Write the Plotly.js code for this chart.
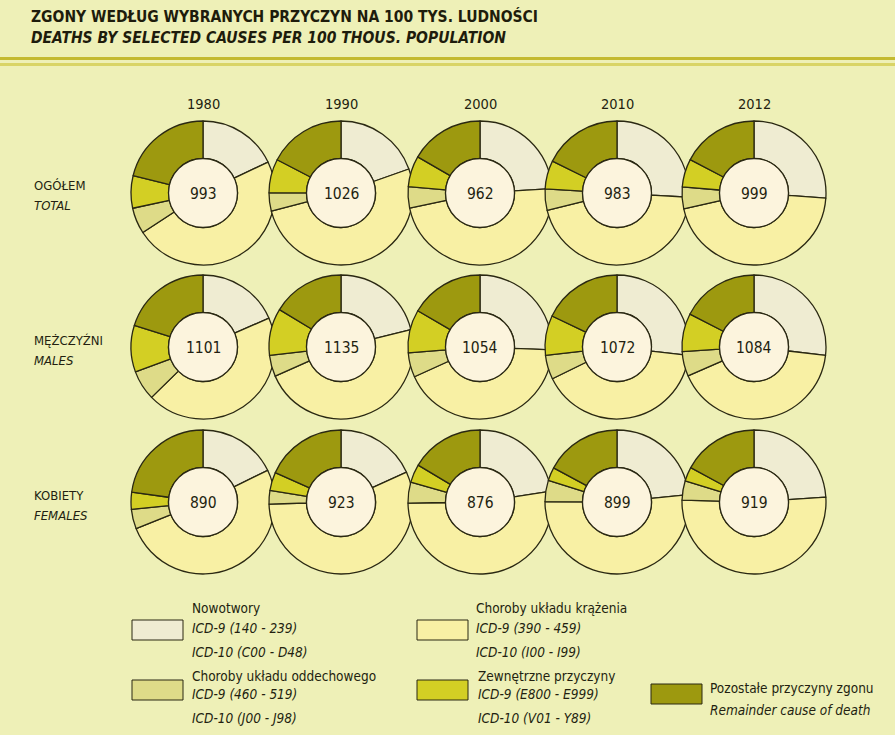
<!DOCTYPE html>
<html>
<head>
<meta charset="utf-8">
<script src="https://cdn.plot.ly/plotly-3.0.1.min.js"></script>
<style>html,body{margin:0;padding:0;background:#eef0b7;}#chart{width:895px;height:735px;}</style>
</head>
<body>
<div id="chart"></div>
<script>
// ---------- DATA ----------
const years = ['1980', '1990', '2000', '2010', '2012'];
const groupsPL = ['OGÓŁEM', 'MĘŻCZYŹNI', 'KOBIETY'];
const groupsEN = ['TOTAL', 'MALES', 'FEMALES'];
const causes = ['Nowotwory', 'Choroby układu krążenia', 'Choroby układu oddechowego', 'Zewnętrzne przyczyny', 'Pozostałe przyczyny zgonu'];

const totalsAll = [993, 1026, 962, 983, 999];
const totalsMales = [1101, 1135, 1054, 1072, 1084];
const totalsFemales = [890, 923, 876, 899, 919];

// per 100 thous. population
const neoplasmsAll = [178, 201, 231, 255, 261];
const circulatoryAll = [475, 527, 458, 444, 453];
const respiratoryAll = [58, 42, 46, 47, 49];
const externalAll = [72, 78, 67, 63, 63];
const remainderAll = [210, 178, 160, 174, 173];

const neoplasmsMales = [203, 240, 270, 288, 291];
const circulatoryMales = [487, 536, 449, 438, 451];
const respiratoryMales = [74, 54, 58, 58, 60];
const externalMales = [115, 120, 102, 96, 93];
const remainderMales = [222, 185, 175, 192, 189];

const neoplasmsFemales = [158, 168, 198, 210, 220];
const circulatoryFemales = [456, 520, 457, 465, 473];
const respiratoryFemales = [39, 28, 41, 43, 40];
const externalFemales = [34, 38, 36, 27, 29];
const remainderFemales = [203, 169, 144, 154, 157];

// ---------- STYLE / LAYOUT ----------
const W = 895, H = 735;
const colors = ['#efecd2', '#f8f0a4', '#dedb88', '#d3cf24', '#9d990f'];
const lineCol = '#2a2812';
const FONT = '"Liberation Sans Narrow", "DejaVu Sans Condensed", "Roboto", sans-serif';
const txtCol = '#231f10';

const colX = [203, 341, 480, 617, 754];
const rowY = [193, 347, 502];
const R = 72;
const RI = 34.5;

const groups = [
  {tot: totalsAll, s: [neoplasmsAll, circulatoryAll, respiratoryAll, externalAll, remainderAll]},
  {tot: totalsMales, s: [neoplasmsMales, circulatoryMales, respiratoryMales, externalMales, remainderMales]},
  {tot: totalsFemales, s: [neoplasmsFemales, circulatoryFemales, respiratoryFemales, externalFemales, remainderFemales]}
];

const px = x => x / W;
const py = y => 1 - y / H;

const traces = [];
const shapes = [];
const annotations = [];

groups.forEach((g, gi) => {
  years.forEach((yr, yi) => {
    const cx = colX[yi], cy = rowY[gi];
    traces.push({
      type: 'pie',
      labels: causes,
      values: g.s.map(arr => arr[yi]),
      sort: false,
      direction: 'clockwise',
      rotation: 0,
      hole: RI / R,
      textinfo: 'none',
      hoverinfo: 'label+value',
      showlegend: false,
      marker: {colors: colors, line: {color: lineCol, width: 1.3}},
      domain: {x: [px(cx - R), px(cx + R)], y: [py(cy + R), py(cy - R)]}
    });
    shapes.push({
      type: 'circle', xref: 'paper', yref: 'paper', layer: 'above',
      x0: px(cx - RI), x1: px(cx + RI), y0: py(cy + RI), y1: py(cy - RI),
      fillcolor: '#fcf4dd', line: {color: lineCol, width: 1.3}
    });
    annotations.push({
      xref: 'paper', yref: 'paper', x: px(cx), y: py(cy + 1), xanchor: 'center', yanchor: 'middle',
      text: String(g.tot[yi]), showarrow: false,
      font: {family: FONT, size: 15.5, color: txtCol}
    });
  });
  annotations.push({
    xref: 'paper', yref: 'paper', x: px(32), y: py(rowY[gi] - 7), xanchor: 'left', yanchor: 'middle',
    text: groupsPL[gi], showarrow: false, font: {family: FONT, size: 13, color: txtCol}
  });
  annotations.push({
    xref: 'paper', yref: 'paper', x: px(32), y: py(rowY[gi] + 13), xanchor: 'left', yanchor: 'middle',
    text: '<i>' + groupsEN[gi] + '</i>', showarrow: false, font: {family: FONT, size: 13, color: txtCol}
  });
});

years.forEach((yr, yi) => {
  annotations.push({
    xref: 'paper', yref: 'paper', x: px(colX[yi]), y: py(104), xanchor: 'center', yanchor: 'middle',
    text: yr, showarrow: false, font: {family: FONT, size: 14.5, color: txtCol}
  });
});

// title
annotations.push({
  xref: 'paper', yref: 'paper', x: px(29), y: py(16), xanchor: 'left', yanchor: 'middle',
  text: '<b>ZGONY WEDŁUG WYBRANYCH PRZYCZYN NA 100 TYS. LUDNOŚCI</b>', showarrow: false,
  font: {family: FONT, size: 15.5, color: '#1e1c0c'}
});
annotations.push({
  xref: 'paper', yref: 'paper', x: px(29), y: py(38), xanchor: 'left', yanchor: 'middle',
  text: '<b><i>DEATHS BY SELECTED CAUSES PER 100 THOUS. POPULATION</i></b>', showarrow: false,
  font: {family: FONT, size: 15.5, color: '#1e1c0c'}
});
shapes.push({type: 'line', xref: 'paper', yref: 'paper', x0: 0, x1: 1, y0: py(58.5), y1: py(58.5), line: {color: '#c4ba30', width: 3}});
shapes.push({type: 'line', xref: 'paper', yref: 'paper', x0: 0, x1: 1, y0: py(64.5), y1: py(64.5), line: {color: '#d9d466', width: 3}});

// legend (custom)
const legendItems = [
  {ci: 0, bx: 132, by: 620, tx: 190, lines: [['Nowotwory', 608, false], ['ICD-9 (140 - 239)', 628, true], ['ICD-10 (C00 - D48)', 652, true]]},
  {ci: 1, bx: 417, by: 620, tx: 474, lines: [['Choroby układu krążenia', 608, false], ['ICD-9 (390 - 459)', 628, true], ['ICD-10 (I00 - I99)', 652, true]]},
  {ci: 2, bx: 132, by: 680, tx: 190, lines: [['Choroby układu oddechowego', 676, false], ['ICD-9 (460 - 519)', 694, true], ['ICD-10 (J00 - J98)', 718, true]]},
  {ci: 3, bx: 417, by: 680, tx: 476, lines: [['Zewnętrzne przyczyny', 676, false], ['ICD-9 (E800 - E999)', 694, true], ['ICD-10 (V01 - Y89)', 718, true]]},
  {ci: 4, bx: 651, by: 684, tx: 708, lines: [['Pozostałe przyczyny zgonu', 688, false], ['Remainder cause of death', 710, true]]}
];
legendItems.forEach(it => {
  shapes.push({
    type: 'rect', xref: 'paper', yref: 'paper',
    x0: px(it.bx), x1: px(it.bx + 51), y0: py(it.by + 20), y1: py(it.by),
    fillcolor: colors[it.ci], line: {color: lineCol, width: 1}
  });
  it.lines.forEach(l => {
    annotations.push({
      xref: 'paper', yref: 'paper', x: px(it.tx), y: py(l[1]), xanchor: 'left', yanchor: 'middle',
      text: l[2] ? '<i>' + l[0] + '</i>' : l[0], showarrow: false,
      font: {family: FONT, size: 13.5, color: txtCol}
    });
  });
});

const layout = {
  width: W, height: H,
  margin: {l: 0, r: 0, t: 0, b: 0},
  paper_bgcolor: '#eef0b7',
  plot_bgcolor: '#eef0b7',
  showlegend: false,
  shapes: shapes,
  annotations: annotations
};

Plotly.newPlot('chart', traces, layout, {displayModeBar: false, staticPlot: true});
</script>
</body>
</html>
